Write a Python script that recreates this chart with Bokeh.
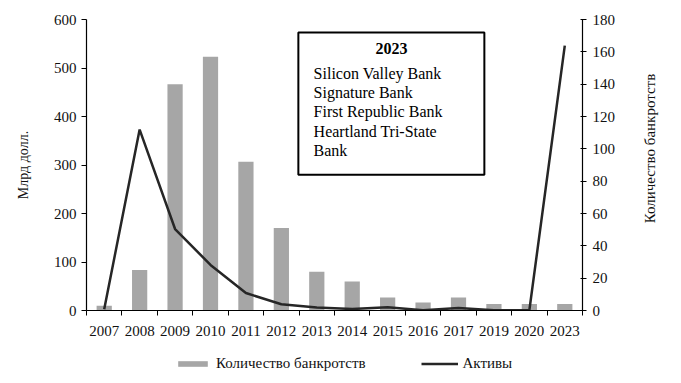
import math
from bokeh.plotting import figure
from bokeh.layouts import column, row
from bokeh.models import (Range1d, LinearAxis, FixedTicker, Legend, LegendItem,
                          BoxAnnotation, Label, ColumnDataSource)
from bokeh.embed import file_html
from bokeh.resources import INLINE

years = ["2007", "2008", "2009", "2010", "2011", "2012", "2013", "2014",
         "2015", "2016", "2017", "2019", "2020", "2023"]
failures = [3, 25, 140, 157, 92, 51, 24, 18, 8, 5, 8, 4, 4, 4]
assets = [2.6, 373, 168, 94, 36, 13, 6, 3, 6.5, 0.5, 5, 0.3, 0.5, 546]
left_ticks = [0, 100, 200, 300, 400, 500, 600]
right_ticks = [0, 20, 40, 60, 80, 100, 120, 140, 160, 180]
box_title = "2023"
box_lines = ["Silicon Valley Bank", "Signature Bank", "First Republic Bank",
             "Heartland Tri-State", "Bank"]
bar_name = "Количество банкротств"
line_name = "Активы"
left_title = "Млрд долл."
right_title = "Количество банкротств"

FONT = "Liberation Serif"
BAR = "#a6a6a6"
LINE = "#262626"
TXT = "#111111"

xs = [i + 0.5 for i in range(len(years))]
src = ColumnDataSource(dict(x=xs, failures=failures, assets=assets))

# ---------------- main chart ----------------
p = figure(width=625, height=345, output_backend="svg", toolbar_location=None,
           x_range=Range1d(0, len(years)), y_range=Range1d(0, 600),
           min_border_left=86, min_border_right=43, min_border_top=19,
           min_border_bottom=35)
p.outline_line_color = None
p.grid.visible = False
p.extra_y_ranges = {"cnt": Range1d(0, 180)}

bars = p.vbar(x="x", top="failures", width=0.43, bottom=0, source=src,
              y_range_name="cnt", fill_color=BAR, line_color=None)
line = p.line(x="x", y="assets", source=src, line_color=LINE, line_width=2.5)

xa = p.xaxis[0]
xa.ticker = FixedTicker(ticks=xs, minor_ticks=list(range(len(years) + 1)))
xa.major_label_overrides = {x: y for x, y in zip(xs, years)}
xa.major_tick_out = 0
xa.major_tick_in = 0
xa.minor_tick_out = 5
xa.minor_tick_in = 0
xa.minor_tick_line_color = "black"
xa.major_label_standoff = 10

ya = p.yaxis[0]
ya.ticker = FixedTicker(ticks=left_ticks)
ya.minor_tick_line_color = None
ya.major_tick_out = 5
ya.major_tick_in = 0
ya.major_label_standoff = 5
ya.axis_label = left_title
ya.axis_label_standoff = 20

ra = LinearAxis(y_range_name="cnt", ticker=FixedTicker(ticks=right_ticks))
ra.minor_tick_line_color = None
ra.major_tick_out = 4
ra.major_tick_in = 2
ra.major_label_standoff = 6
p.add_layout(ra, "right")

for ax in [xa, ya, ra]:
    ax.axis_line_color = "black"
    ax.axis_line_width = 1.2
    ax.major_tick_line_color = "black" if ax is not xa else None
    ax.major_label_text_font = FONT
    ax.major_label_text_font_size = "15px"
    ax.major_label_text_color = TXT
    ax.axis_label_text_font = FONT
    ax.axis_label_text_font_size = "14px"
    ax.axis_label_text_font_style = "normal"
    ax.axis_label_text_color = TXT

box = BoxAnnotation(left=5.98, right=11.23, bottom=280, top=573,
                    fill_color="white", fill_alpha=1.0,
                    line_color="black", line_width=2, line_alpha=1.0)
p.add_layout(box)
p.add_layout(Label(x=8.61, y=540, text=box_title, text_font=FONT,
                   text_font_size="16px", text_font_style="bold",
                   text_align="center", text_baseline="middle",
                   text_color="black"))
line_y = [489, 449, 410, 369, 329]
for t, yy in zip(box_lines, line_y):
    p.add_layout(Label(x=6.41, y=yy, text=t, text_font=FONT,
                       text_font_size="16px", text_align="left",
                       text_baseline="middle", text_color="black"))

# ---------------- right axis title (reads bottom-to-top) ----------------
rfig = figure(width=48, height=345, output_backend="svg", toolbar_location=None,
              x_range=Range1d(0, 48), y_range=Range1d(0, 345),
              min_border=0, outline_line_color=None)
rfig.axis.visible = False
rfig.grid.visible = False
rfig.add_layout(Label(x=24, y=192, text=right_title, angle=math.pi / 2,
                      text_font=FONT, text_font_size="15px", text_align="center",
                      text_baseline="middle", text_color=TXT))

# ---------------- legend strip ----------------
lfig = figure(width=673, height=30, output_backend="svg", toolbar_location=None,
              x_range=Range1d(0, 1), y_range=Range1d(0, 1),
              min_border=0, outline_line_color=None)
lfig.axis.visible = False
lfig.grid.visible = False
# swatch renderers for the legend only (kept outside the visible strip)
proxy = ColumnDataSource(dict(x=[-5, -4], y=[-5, -5]))
lb = lfig.vbar(x="x", top="y", width=0.5, source=proxy, fill_color=BAR, line_color=None)
ll = lfig.line(x="x", y="y", source=proxy, line_color=LINE, line_width=2.5)
legend = Legend(items=[LegendItem(label=bar_name, renderers=[lb]),
                       LegendItem(label=line_name, renderers=[ll])],
                orientation="horizontal", location=(174, 3),
                glyph_width=37, glyph_height=7, spacing=55, label_standoff=5,
                border_line_color=None, background_fill_alpha=0,
                label_text_font=FONT, label_text_font_size="15px",
                label_text_color=TXT, padding=0, margin=0)
lfig.add_layout(legend)

layout = column(row(p, rfig), lfig)
open("out.html", "w").write(file_html(layout, INLINE))
